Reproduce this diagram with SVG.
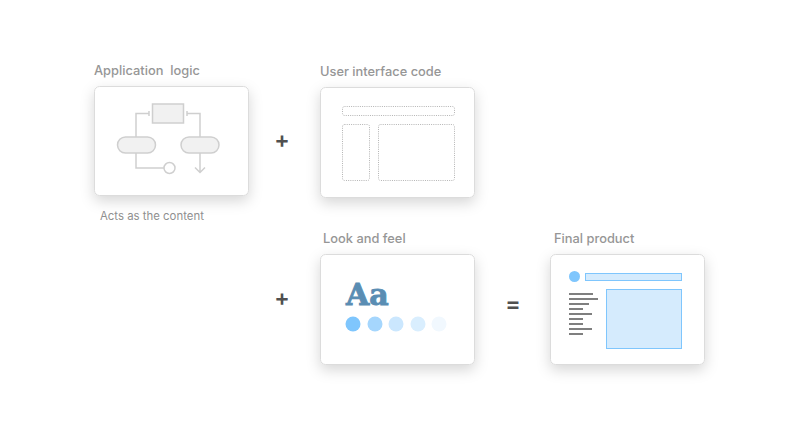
<svg xmlns="http://www.w3.org/2000/svg" width="801" height="433" viewBox="0 0 801 433">
<defs>
<filter id="sh" x="-30%" y="-30%" width="160%" height="170%"><feDropShadow dx="0" dy="5" stdDeviation="7" flood-color="#000" flood-opacity="0.16"/></filter>
</defs>
<style>
text{font-family:Inter,"Liberation Sans",sans-serif}
.t{font-size:12.850px;font-weight:500;fill:#969696;white-space:pre}
.s{font-size:11.400px;fill:#8f8f8f}
.op{font-size:23px;font-weight:600;fill:#505050;text-anchor:middle}
.card{fill:#fff;stroke:#dcdcdc;stroke-width:1;filter:url(#sh)}
.g{fill:none;stroke:#cfcfcf;stroke-width:1.5}
.gf{fill:#f1f1f1;stroke:#cfcfcf;stroke-width:1.5}
.d{fill:none;stroke:#b4b4b4;stroke-width:1;stroke-dasharray:1 1.2}
.l{stroke:#555;stroke-width:1.5}
.b{fill:#d5ebfd;stroke:#7fc6fd;stroke-width:1}
.aa{font-family:"DejaVu Serif",serif;font-size:30px;font-weight:700;fill:#5a8db3;stroke:#5a8db3;stroke-width:0.9}
</style>
<rect width="801" height="433" fill="#fff"/>
<g id="app">
<text class="t" x="94" y="75">Application  logic</text>
<rect class="card" x="94.500" y="86.500" width="154" height="109" rx="5"/>
<rect class="gf" x="152.500" y="104" width="31" height="19"/>
<rect class="gf" x="117.500" y="137" width="38" height="16" rx="8"/>
<rect class="gf" x="181" y="137" width="38" height="16" rx="8"/>
<circle class="g" cx="169.500" cy="168" r="5.500"/>
<path class="g" d="M149 113.500H136V137M149 111v5M187 113.500H200V137M187 111v5M136 153V168H164M200 153V172M195 167.500l5 5l5-5"/>
<text class="s" x="100" y="220">Acts as the content</text>
</g>
<g id="ui">
<text class="t" x="320" y="76">User interface code</text>
<rect class="card" x="320.500" y="87.500" width="154" height="110" rx="5"/>
<rect class="d" x="342.500" y="106.500" width="112" height="9" rx="2"/>
<rect class="d" x="342.500" y="124.500" width="27" height="56" rx="2"/>
<rect class="d" x="378.500" y="124.500" width="76" height="56" rx="2"/>
</g>
<g id="look">
<text class="t" x="323" y="243">Look and feel</text>
<rect class="card" x="320.500" y="254.500" width="154" height="110" rx="5"/>
<text class="aa" x="346" y="305">Aa</text>
<circle cx="353" cy="324" r="7.500" fill="#7fc6fd"/>
<circle cx="375" cy="324" r="7.500" fill="#a5d6fd"/>
<circle cx="396" cy="324" r="7.500" fill="#cbe7fe"/>
<circle cx="418" cy="324" r="7.500" fill="#d9eefe"/>
<circle cx="439" cy="324" r="7.500" fill="#f1f8fe"/>
</g>
<g id="final">
<text class="t" x="554" y="243">Final product</text>
<rect class="card" x="550.500" y="254.500" width="154" height="110" rx="5"/>
<circle cx="574.500" cy="276.500" r="5.500" fill="#7fc6fd"/>
<rect class="b" x="585.500" y="273.500" width="96" height="7"/>
<rect class="b" x="606.500" y="289.500" width="75" height="59"/>
<path class="l" d="M569 294h24M569 299h29M569 304h20M569 309h14M569 314h23M569 319h14M569 324h14M569 329h23M569 334h14"/>
</g>
<g id="connectors">
<text class="op" x="282" y="148">+</text>
<text class="op" x="282" y="306">+</text>
<text class="op" x="513" y="312">=</text>
</g>
</svg>
